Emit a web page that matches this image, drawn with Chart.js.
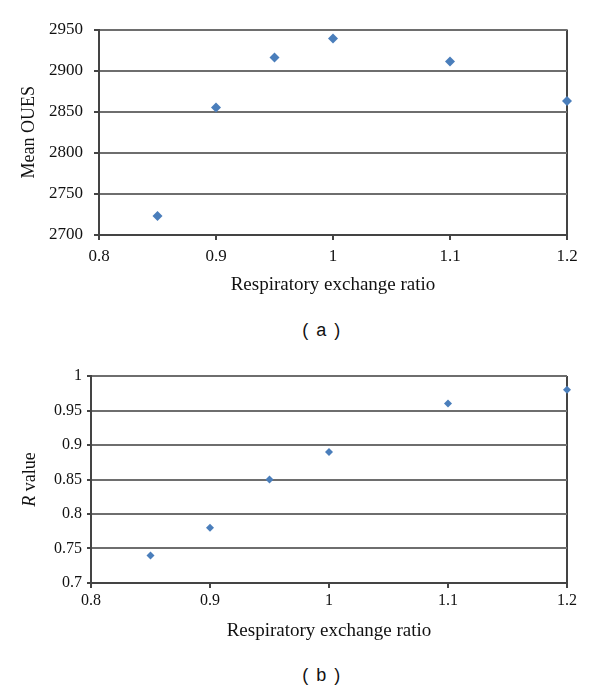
<!DOCTYPE html>
<html><head><meta charset="utf-8">
<script src="https://cdn.jsdelivr.net/npm/chart.js@4/dist/chart.umd.min.js"></script>
<style>
html,body{margin:0;padding:0;background:#fff;width:600px;height:691px;overflow:hidden}
.wrap{position:absolute;left:0;width:600px;height:300px}
.lab{position:absolute;left:0;width:644px;text-align:center;font-family:"Liberation Sans",Arial,sans-serif;font-size:18px;line-height:18px;color:#111;letter-spacing:1.5px;white-space:pre}
</style></head><body>
<div class="wrap" style="top:0"><canvas id="ca" width="600" height="300"></canvas></div>
<div class="lab" style="top:321px">( a )</div>
<div class="wrap" style="top:345px"><canvas id="cb" width="600" height="300"></canvas></div>
<div class="lab" style="top:666px">( b )</div>
<script>
// ---- data ----
const xValues = [0.85, 0.9, 0.95, 1.0, 1.1, 1.2];
const meanOues = [2723, 2855, 2916, 2939, 2911, 2863];
const rValues = [0.74, 0.78, 0.85, 0.89, 0.96, 0.98];
const xTicks = [0.8, 0.9, 1.0, 1.1, 1.2];
const xTickLabels = ['0.8', '0.9', '1', '1.1', '1.2'];
const ouesTicks = [2700, 2750, 2800, 2850, 2900, 2950];
const ouesTickLabels = ['2700', '2750', '2800', '2850', '2900', '2950'];
const rTicks = [0.7, 0.75, 0.8, 0.85, 0.9, 0.95, 1.0];
const rTickLabels = ['0.7', '0.75', '0.8', '0.85', '0.9', '0.95', '1'];
const xTitle = 'Respiratory exchange ratio';
const ouesTitle = 'Mean OUES';

const AXIS = '#444444';
const GRID = '#6e6e6e';
const MARK = '#4A7EBB';
const SERIF = '"Liberation Serif", "Times New Roman", serif';

function makeChart(id, ys, yTicks, yTickLabels, opt) {
  return new Chart(document.getElementById(id), {
    type: 'scatter',
    data: {
      datasets: [{
        data: xValues.map((x, i) => ({x: x, y: ys[i]})),
        pointStyle: 'rectRot',
        pointRadius: opt.radius,
        pointBorderWidth: 0,
        backgroundColor: MARK,
        borderColor: MARK,
        showLine: false,
        clip: false
      }]
    },
    options: {
      responsive: false,
      animation: false,
      events: [],
      layout: {padding: opt.padding},
      plugins: {legend: {display: false}, tooltip: {enabled: false}},
      scales: {
        x: {
          type: 'linear',
          min: xTicks[0], max: xTicks[xTicks.length - 1],
          afterBuildTicks: s => { s.ticks = xTicks.map(v => ({value: v})); },
          afterFit: s => { s.height = opt.xH; },
          border: {display: true, color: AXIS, width: 2},
          grid: {
            color: c => (c.tick && c.tick.value === xTicks[xTicks.length - 1]) ? AXIS : 'rgba(0,0,0,0)',
            tickColor: AXIS, tickLength: 5, lineWidth: 2
          },
          ticks: {
            callback: (v, i) => xTickLabels[i],
            font: {family: SERIF, size: opt.tickSize}, color: '#111',
            padding: opt.xPad, maxRotation: 0, autoSkip: false
          },
          title: {
            display: true, text: xTitle,
            font: {family: SERIF, size: 19}, color: '#111',
            padding: {top: 0, bottom: 0}
          }
        },
        y: {
          type: 'linear',
          min: yTicks[0], max: yTicks[yTicks.length - 1],
          afterBuildTicks: s => { s.ticks = yTicks.map(v => ({value: v})); },
          afterFit: s => { s.width = opt.yW; },
          border: {display: true, color: AXIS, width: 2},
          grid: {color: GRID, tickColor: AXIS, tickLength: opt.yTL, lineWidth: 2},
          ticks: {
            callback: (v, i) => yTickLabels[i],
            font: {family: SERIF, size: opt.tickSize}, color: '#111',
            padding: opt.yPad, autoSkip: false
          },
          title: {
            display: opt.yTitle !== null, text: opt.yTitle || '',
            font: {family: SERIF, size: 18}, color: '#111',
            padding: {top: opt.yTitlePad, bottom: 0}
          }
        }
      }
    },
    plugins: opt.plugins || []
  });
}

makeChart('ca', meanOues, ouesTicks, ouesTickLabels, {
  radius: 5, padding: {top: 29.5, right: 33, bottom: 3.6, left: 0},
  xH: 61.4, yW: 99, tickSize: 17, xPad: 6, yPad: 11, yTL: 5,
  yTitle: ouesTitle, yTitlePad: 18
});

// mixed-style y title for panel (b): italic "R" + " value"
const rTitlePlugin = {
  id: 'rTitle',
  afterDraw(chart) {
    const ctx = chart.ctx, a = chart.chartArea;
    const cy = (a.top + a.bottom) / 2, cx = 30;
    const fItal = 'italic 18px ' + SERIF, fNorm = '18px ' + SERIF;
    ctx.save();
    ctx.font = fItal; const w1 = ctx.measureText('R').width;
    ctx.font = fNorm; const w2 = ctx.measureText(' value').width;
    ctx.translate(cx, cy);
    ctx.rotate(-Math.PI / 2);
    ctx.fillStyle = '#111';
    ctx.textBaseline = 'middle';
    ctx.textAlign = 'left';
    const start = -(w1 + w2) / 2;
    ctx.font = fItal; ctx.fillText('R', start, 0);
    ctx.font = fNorm; ctx.fillText(' value', start + w1, 0);
    ctx.restore();
  }
};

makeChart('cb', rValues, rTicks, rTickLabels, {
  radius: 4, padding: {top: 31, right: 33, bottom: 2.9, left: 0},
  xH: 59.1, yW: 91, tickSize: 16, xPad: 3, yPad: 5, yTL: 4,
  yTitle: null, yTitlePad: 0, plugins: [rTitlePlugin]
});
</script>
</body></html>
